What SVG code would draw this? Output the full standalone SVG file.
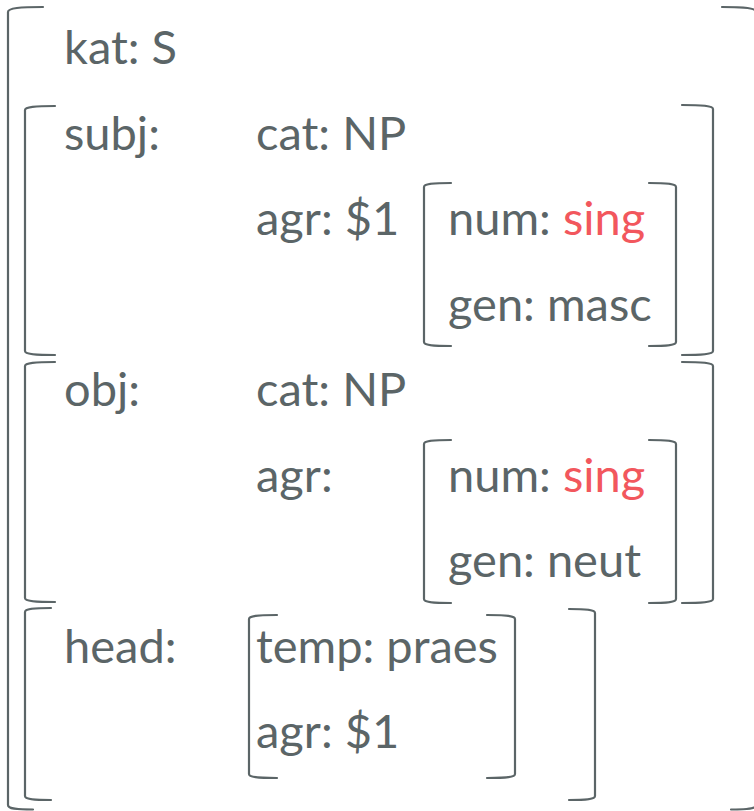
<svg xmlns="http://www.w3.org/2000/svg" width="754" height="811" viewBox="0 0 754 811">
<style>
text{font-family:Lato,"Open Sans","DejaVu Sans",sans-serif;font-size:47px;fill:#5b6567}
.v{fill:#f2575d}
.b{fill:none;stroke:#5b6567;stroke-width:2.2;stroke-linecap:round}
</style>
<rect width="754" height="811" fill="#ffffff"/>
<g id="fs-root">
<path class="b" d="M43 7 C20 7 8 8 8 12 L8 805 C8 809 16 809.5 33 809.5"/>
<path class="b" d="M722 7 C745 7 756 8 756 12 L756 805 C756 809 748 809.5 731 809.5"/>
<text x="64" y="64">kat: S</text>
</g>
<g id="fs-subj">
<path class="b" d="M55 106 C35 106 25 107 25 110 L25 351 C25 354 35 355 55 355"/>
<path class="b" d="M682 105 C702 105 713 106 713 109 L713 351 C713 354 702 355 682 355"/>
<text x="64" y="149.5">subj:</text>
<text x="256" y="149.5">cat: NP</text>
<text x="256" y="235">agr: $1</text>
</g>
<g id="fs-subj-agr">
<path class="b" d="M451 183 C432 183 424 184 424 187 L424 342 C424 345 432 346 451 346"/>
<path class="b" d="M649 183 C668 183 676 184 676 187 L676 342 C676 345 668 346 649 346"/>
<text x="448" y="235">num: <tspan class="v">sing</tspan></text>
<text x="448" y="320.5">gen: masc</text>
</g>
<g id="fs-obj">
<path class="b" d="M55 362 C35 362 25 363 25 366 L25 598 C25 601 35 602 55 602"/>
<path class="b" d="M682 362 C702 362 713 363 713 366 L713 599 C713 602 702 603 682 603"/>
<text x="64" y="406">obj:</text>
<text x="256" y="406">cat: NP</text>
<text x="256" y="491.5">agr:</text>
</g>
<g id="fs-obj-agr">
<path class="b" d="M451 440 C432 440 424 441 424 444 L424 599 C424 602 432 603 451 603"/>
<path class="b" d="M649 440 C668 440 676 441 676 444 L676 599 C676 602 668 603 649 603"/>
<text x="448" y="491.5">num: <tspan class="v">sing</tspan></text>
<text x="448" y="577">gen: neut</text>
</g>
<g id="fs-head">
<path class="b" d="M51 608 C33 608 25 609 25 612 L25 796 C25 799 33 800 51 800"/>
<path class="b" d="M569 609 C587 609 595 610 595 613 L595 796 C595 799 587 800 569 800"/>
<text x="64" y="662.5">head:</text>
</g>
<g id="fs-head-val">
<path class="b" d="M277 615 C257 615 249 616 249 619 L249 774 C249 777 257 778 277 778"/>
<path class="b" d="M487 615 C507 615 515 616 515 619 L515 774 C515 777 507 778 487 778"/>
<text x="256" y="662.5">temp: praes</text>
<text x="256" y="748">agr: $1</text>
</g>
</svg>
